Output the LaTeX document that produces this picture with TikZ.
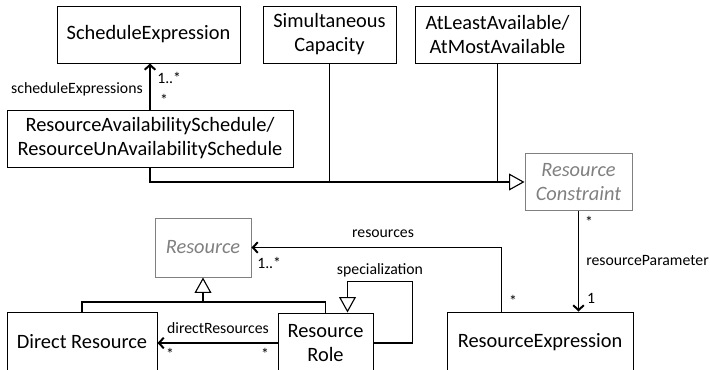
\documentclass[tikz,border=0pt]{standalone}
\usepackage{fontspec}
\setmainfont{Carlito}
\usepackage{tikz}
\usetikzlibrary{arrows.meta,positioning,calc}
\definecolor{absgray}{RGB}{128,128,128}
\newdimen\px
\px=0.025cm

\tikzset{
  cls/.style={draw, line width=0.7pt, inner sep=0pt, align=center,
              font=\fontsize{14.5}{17}\selectfont},
  abscls/.style={cls, draw=absgray, text=absgray, font=\fontsize{14.5}{17}\selectfont\itshape},
  lbl/.style={inner sep=0pt, font=\fontsize{11.2}{13}\selectfont},
  conn/.style={line width=1.4pt},
  assoc/.style={conn, -{Straight Barb[length=3.5pt,width=7.5pt]}},
  gen/.style={conn, -{Triangle[open,length=11pt,width=12pt,line width=0.8pt]}}
}

\begin{document}
\begin{tikzpicture}[x=0.025cm, y=-0.025cm]
  \useasboundingbox (0,0) rectangle (710,369);
  \clip (0,0) rectangle (710,369);

  % ---- top row ----
  \node[cls, minimum width=183\px, minimum height=57\px] (schedExp) at (148.5,34.5) {ScheduleExpression};
  \node[cls, minimum width=133\px, minimum height=57\px] (simCap) at (329.5,34.5) {Simultaneous\\Capacity};
  \node[cls, minimum width=165\px, minimum height=57\px] (atLeast) at (497.5,34.5) {AtLeastAvailable/\\AtMostAvailable};

  % ---- middle ----
  \node[cls, minimum width=286\px, minimum height=57\px] (availSched) at (150,138.5)
    {ResourceAvailabilitySchedule/\\ResourceUnAvailabilitySchedule};
  \node[abscls, minimum width=107\px, minimum height=57\px] (resConstr) at (578.5,182) {Resource\\Constraint};
  \node[abscls, minimum width=96\px, minimum height=59\px] (resource) at (203,247.5) {Resource};

  % ---- bottom row (cut by the page edge) ----
  \node[cls, minimum width=150\px, minimum height=60\px] (directRes) at (82,342) {Direct Resource};
  \node[cls, minimum width=95\px, minimum height=60\px] (resRole) at (325.5,343) {Resource\\Role};
  \node[cls, minimum width=186\px, minimum height=60\px] (resExpr) at (540,342) {ResourceExpression};

  % ---- schedule expressions ----
  \draw[assoc] (availSched.north) -- (availSched.north |- schedExp.south);
  \node[lbl, anchor=west] (seMultTop) at (157,78) {1..*};
  \node[lbl] (seMultBot) at (164,100) {*};
  \node[lbl, anchor=east] (seName) at (143,89) {scheduleExpressions};

  % ---- generalisations to ResourceConstraint ----
  \draw[gen] (availSched.south) |- (resConstr.west);
  \draw[conn] (simCap.south) -- (simCap.south |- resConstr.west);
  \draw[conn] (atLeast.south) -- (atLeast.south |- resConstr.west);

  % ---- resource parameter ----
  \draw[assoc] (resConstr.south) -- (resConstr.south |- resExpr.north);
  \node[lbl] (rpMultTop) at (589,222) {*};
  \node[lbl, anchor=west] (rpName) at (586,260) {resourceParameter};
  \node[lbl] (rpMultBot) at (591,298) {1};

  % ---- resources ----
  \draw[assoc] ($(resExpr.north west)+(55,0)$) |- (resource.east);
  \node[lbl] (resName) at (383,234) {resources};
  \node[lbl, anchor=west] (resMultTop) at (257,263) {1..*};
  \node[lbl] (resMultBot) at (513,301) {*};

  % ---- generalisation to Resource ----
  \coordinate (genJoin) at (203,302);
  \draw[conn] (directRes.north) |- (genJoin) -| (resRole.north);
  \draw[gen] (genJoin) -- (resource.south);

  % ---- specialization ----
  \draw[gen] (resRole.east) -- ++(39,0) |- ($(resRole.north)+(22,-31)$) -- ($(resRole.north)+(22,0)$);
  \node[lbl] (specName) at (380,270) {specialization};

  % ---- direct resources ----
  \draw[assoc] (resRole.west) -- (resRole.west -| directRes.east);
  \node[lbl] (drName) at (218,328) {directResources};
  \node[lbl] (drMultL) at (170,354) {*};
  \node[lbl] (drMultR) at (265,354) {*};

\end{tikzpicture}
\end{document}
